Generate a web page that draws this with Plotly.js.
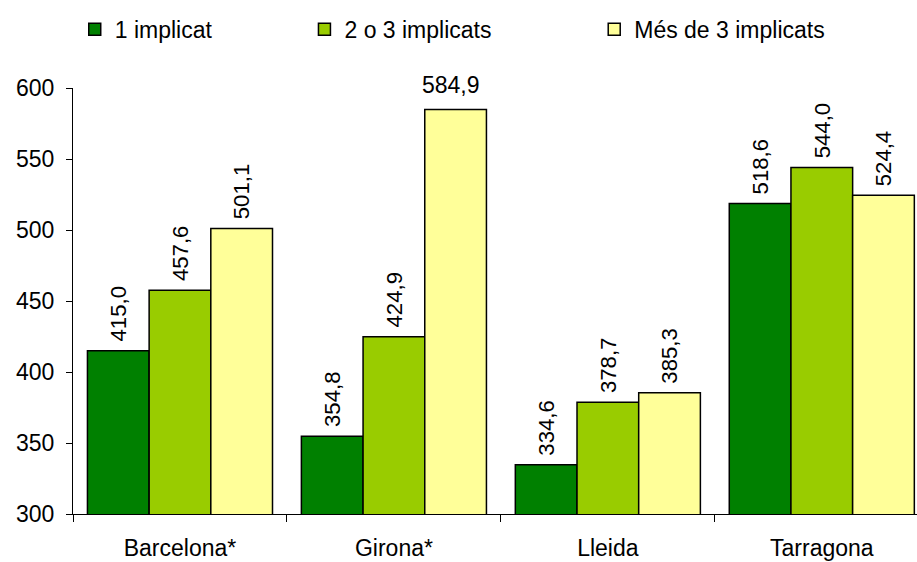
<!DOCTYPE html>
<html><head><meta charset="utf-8">
<script src="https://cdn.plot.ly/plotly-3.0.1.min.js"></script>
<style>body{margin:0;background:#fff}#c{width:917px;height:562px}</style>
</head><body><div id="c"></div>
<script>
const categories = ["Barcelona*", "Girona*", "Lleida", "Tarragona"];
const seriesNames = ["1 implicat", "2 o 3 implicats", "Més de 3 implicats"];
const s1 = [415.0, 354.8, 334.6, 518.6];
const s2 = [457.6, 424.9, 378.7, 544.0];
const s3 = [501.1, 584.9, 385.3, 524.4];
const colors = ["#008000", "#99CC00", "#FFFF99"];
const fmt = v => v.toFixed(1).replace(".", ",");
const FONT = "Liberation Sans, Arial, sans-serif";
const series = [s1, s2, s3];
const legendIds = ["legend", "legend2", "legend3"];
const traces = series.map((vals, i) => ({
  type: "bar", name: seriesNames[i], x: categories, y: vals,
  legend: legendIds[i],
  marker: {color: colors[i], line: {color: "#000", width: 1.5}},
  text: vals.map(v => (i === 2 && v > 570) ? "" : "\u00A0" + fmt(v)),
  textposition: "outside", textangle: -90, cliponaxis: false,
  textfont: {family: FONT, size: 23, color: "#000"},
  hoverinfo: "none"
}));
const annotations = [];
s3.forEach((v, j) => {
  if (v > 570) annotations.push({x: categories[j], y: v, xref: "x", yref: "y",
    text: fmt(v), showarrow: false, yanchor: "bottom", xanchor: "left", xshift: 26, yshift: 9,
    font: {family: FONT, size: 23, color: "#000"}});
});
const legBase = {orientation: "h", xref: "container", yref: "container", y: 0.948, yanchor: "middle",
  xanchor: "left", font: {family: FONT, size: 23}, itemwidth: 30, bgcolor: "rgba(0,0,0,0)"};
const layout = {
  width: 917, height: 562,
  margin: {l: 73, r: 0, t: 88, b: 48},
  paper_bgcolor: "#fff", plot_bgcolor: "#fff",
  font: {family: FONT, size: 23, color: "#000"},
  barmode: "group", bargap: 0.135, bargroupgap: 0,
  showlegend: true,
  legend: Object.assign({}, legBase, {x: 0.0815}),
  legend2: Object.assign({}, legBase, {x: 0.332}),
  legend3: Object.assign({}, legBase, {x: 0.648}),
  xaxis: {range: [-0.5, 3.445], showline: true, linecolor: "#000", linewidth: 1,
    ticks: "outside", tickson: "boundaries", ticklen: 7, tickcolor: "#000",
    showgrid: false, fixedrange: true, tickfont: {size: 23}, ticklabelstandoff: 13},
  yaxis: {range: [300, 600], dtick: 50, showline: true, linecolor: "#000", linewidth: 1,
    ticks: "outside", ticklen: 6, tickcolor: "#000", showgrid: false, zeroline: false,
    tickfont: {size: 23}, fixedrange: true, ticklabelstandoff: 7},
  annotations: annotations
};
Plotly.newPlot("c", traces, layout, {displayModeBar: false, staticPlot: true});
</script></body></html>
